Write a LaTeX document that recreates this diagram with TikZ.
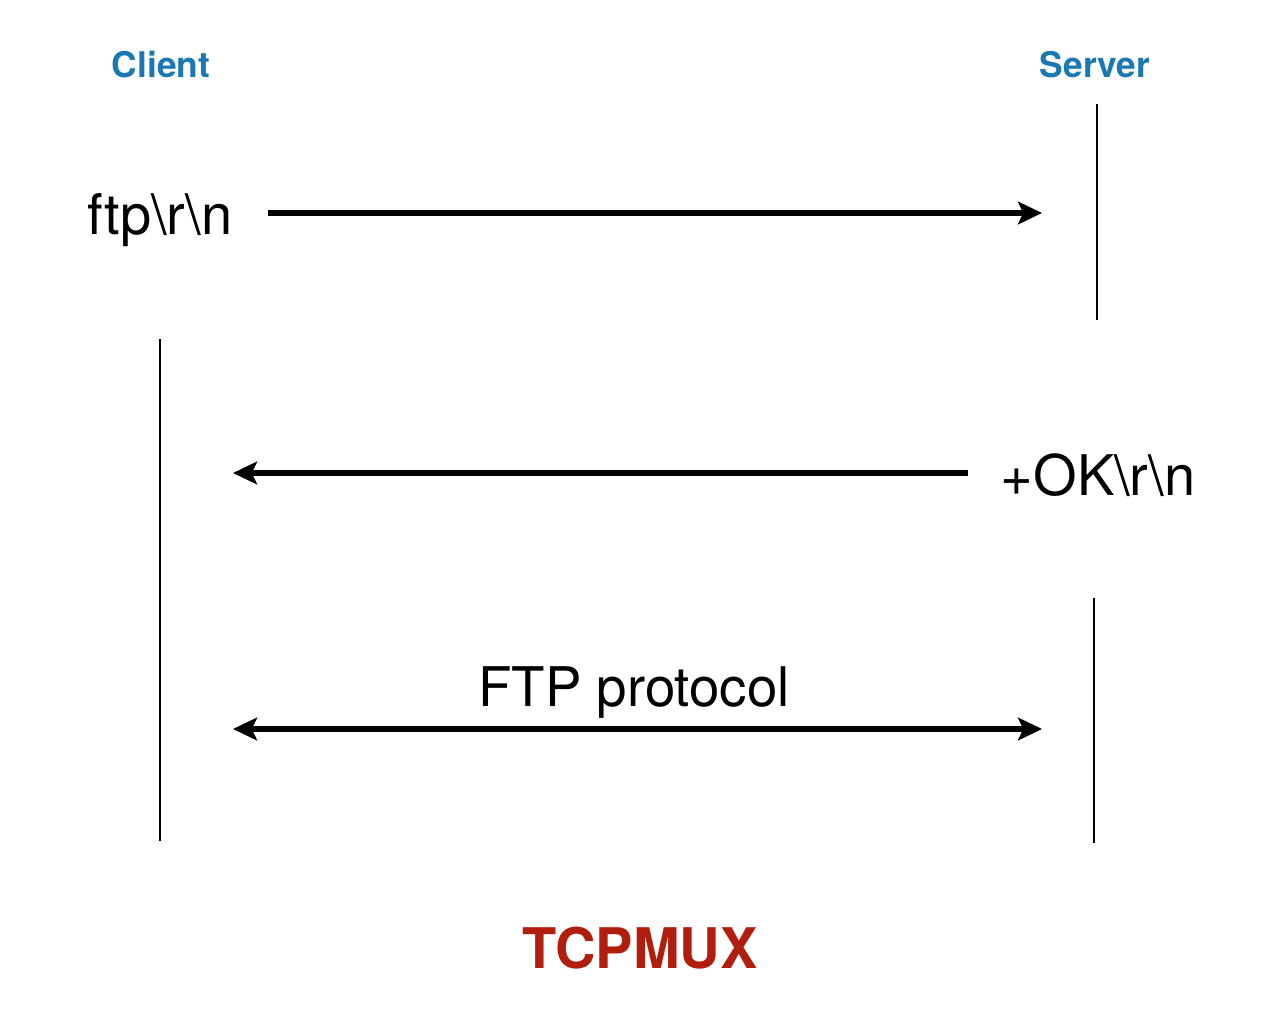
\documentclass[tikz,border=0pt]{standalone}
\usepackage{fontspec}
\setmainfont{TeX Gyre Heros}
\usetikzlibrary{arrows.meta}
\definecolor{roleblue}{RGB}{26,120,180}
\definecolor{titlered}{RGB}{178,30,14}
\begin{document}
\begin{tikzpicture}
[
    x=0.75pt, y=-0.75pt,
    role/.style={inner sep=0pt, anchor=base, font=\fontsize{26.5}{30}\selectfont\bfseries, text=roleblue},
    msgtext/.style={inner sep=0pt, anchor=base, font=\fontsize{42}{48}\selectfont},
    life/.style={line width=1.1pt},
    msg/.style={line width=4.5pt, -{Stealth[length=18pt,width=17pt,inset=4pt]}},
    duplex/.style={line width=4.5pt, {Stealth[length=18pt,width=17pt,inset=4pt]}-{Stealth[length=18pt,width=17pt,inset=4pt]}},
]
\useasboundingbox (0,0) rectangle (1280,1010);
\node[role] (client) at (161,77) {Client};
\node[role] (server) at (1095,77) {Server};
\coordinate (s1top) at (1097,104);
\coordinate (s1bot) at (1097,320);
\coordinate (ctop) at (160,339);
\coordinate (cbot) at (160,841);
\coordinate (s2top) at (1094,598);
\coordinate (s2bot) at (1094,843);
\draw[life] (s1top) -- (s1bot);
\draw[life] (ctop) -- (cbot);
\draw[life] (s2top) -- (s2bot);
% request
\node[msgtext] (req) at (160,234) {ftp\textbackslash r\textbackslash n};
\coordinate (reqstart) at (268,213);
\coordinate (reqend) at (1042,213);
\draw[msg] (reqstart) -- (reqend);
% reply
\node[msgtext] (ok) at (1098,495) {+OK\textbackslash r\textbackslash n};
\coordinate (okstart) at (968,473);
\coordinate (okend) at (233,473);
\draw[msg] (okstart) -- (okend);
% protocol
\node[msgtext, font=\fontsize{41}{48}\selectfont] (ftp) at (634,706) {FTP protocol};
\coordinate (ftpleft) at (233,729);
\coordinate (ftpright) at (1042,729);
\draw[duplex] (ftpleft) -- (ftpright);
\node[inner sep=0pt, anchor=base, font=\fontsize{42}{48}\selectfont\bfseries, text=titlered] (title) at (640,968) {TCPMUX};
\end{tikzpicture}
\end{document}
